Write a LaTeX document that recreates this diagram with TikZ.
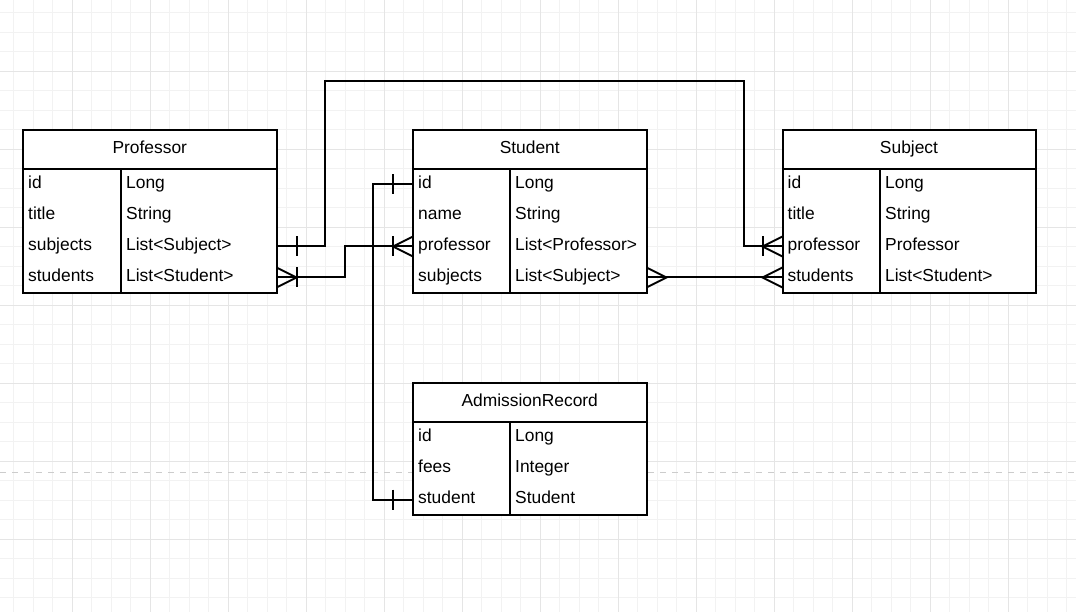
\documentclass[tikz,border=0pt]{standalone}
\usepackage{fontspec}
\setmainfont{Liberation Sans}
\usetikzlibrary{calc}

\tikzset{
  frame/.style={line width=2pt},
  conn/.style={line width=2pt},
  hdr/.style={draw, frame, fill=white, anchor=north west, outer sep=0pt, inner sep=0pt, minimum height=39pt, text height=12.5pt, text depth=4pt},
  body/.style={draw, frame, fill=white, anchor=north west, outer sep=0pt, inner sep=0pt},
  cell/.style={anchor=west, inner sep=0pt, text height=12.5pt, text depth=4pt},
  minorgrid/.style={line width=1pt, color=black!5},
  majorgrid/.style={line width=1pt, color=black!10},
  pagebreak/.style={line width=1pt, color=black!20, dash pattern=on 6pt off 6pt},
  erone/.pic={\draw[conn] (0,-10) -- (0,10);},
  ermany/.pic={\draw[conn] (20,-10) -- (0,0) -- (20,10);},
}

\begin{document}
\begin{tikzpicture}[x=1pt,y=-1pt,font=\fontsize{17.4}{20}\selectfont]
\useasboundingbox[fill=white] (0,0) rectangle (1076,612);

% grid
\foreach \i in {-3,...,51} \draw[minorgrid] ({72.3+19.5*\i},0) -- ++(0,612);
\foreach \i in {-3,...,27} \draw[minorgrid] (0,{71.3+19.5*\i}) -- ++(1076,0);
\foreach \i in {0,...,12} \draw[majorgrid] ({72.3+78*\i},0) -- ++(0,612);
\foreach \i in {0,...,6} \draw[majorgrid] (0,{71.3+78*\i}) -- ++(1076,0);
\draw[pagebreak] (0,472) -- (1076,472);

% Professor
\node[hdr, minimum width=253.5pt] (prof) at (23,130) {Professor};
\node[body, minimum width=253.5pt, minimum height=124pt] (profb) at (prof.south west) {};
\draw[frame] (121,169) -- (121,293);
\foreach \f/\t [count=\r] in {id/Long, title/String, subjects/List<Subject>, students/List<Student>} {
  \node[cell] (prof-\f) at (28,{153.5+31*\r}) {\f};
  \node[cell] (prof-\f-t) at (126,{153.5+31*\r}) {\t};
}

% Student
\node[hdr, minimum width=233.5pt] (stud) at (413,130) {Student};
\node[body, minimum width=233.5pt, minimum height=124pt] (studb) at (stud.south west) {};
\draw[frame] (510,169) -- (510,293);
\foreach \f/\t [count=\r] in {id/Long, name/String, professor/List<Professor>, subjects/List<Subject>} {
  \node[cell] (stud-\f) at (418,{153.5+31*\r}) {\f};
  \node[cell] (stud-\f-t) at (515,{153.5+31*\r}) {\t};
}

% Subject
\node[hdr, minimum width=253pt] (subj) at (782.5,130) {Subject};
\node[body, minimum width=253pt, minimum height=124pt] (subjb) at (subj.south west) {};
\draw[frame] (880,169) -- (880,293);
\foreach \f/\t [count=\r] in {id/Long, title/String, professor/Professor, students/List<Student>} {
  \node[cell] (subj-\f) at (787.5,{153.5+31*\r}) {\f};
  \node[cell] (subj-\f-t) at (885,{153.5+31*\r}) {\t};
}

% AdmissionRecord
\node[hdr, minimum width=233.5pt] (adm) at (413,383) {AdmissionRecord};
\node[body, minimum width=233.5pt, minimum height=93pt] (admb) at (adm.south west) {};
\draw[frame] (510,422) -- (510,515);
\foreach \f/\t [count=\r] in {id/Long, fees/Integer, student/Student} {
  \node[cell] (adm-\f) at (418,{406.5+31*\r}) {\f};
  \node[cell] (adm-\f-t) at (515,{406.5+31*\r}) {\t};
}

% relations
\coordinate (up1) at (325,81.5);
\coordinate (up2) at (743.5,81.5);
\draw[conn] (prof-subjects -| prof.east) -| (up1) -- (up2) |- (subj-professor -| subj.west);
\pic at ($(prof-subjects -| prof.east)+(20,0)$) {erone};
\pic at ($(subj-professor -| subj.west)+(-20,0)$) {erone};
\pic at ($(subj-professor -| subj.west)+(-20,0)$) {ermany};

\coordinate (jog2) at (344.5,262);
\draw[conn] (prof-students -| prof.east) -| (jog2) |- (stud-professor -| stud.west);
\pic at ($(prof-students -| prof.east)+(20,0)$) {erone};
\pic[rotate=180] at ($(prof-students -| prof.east)+(20,0)$) {ermany};
\pic at ($(stud-professor -| stud.west)+(-20,0)$) {erone};
\pic at ($(stud-professor -| stud.west)+(-20,0)$) {ermany};

\coordinate (jog3) at (373,340);
\draw[conn] (stud-id -| stud.west) -| (jog3) |- (adm-student -| adm.west);
\pic at ($(stud-id -| stud.west)+(-20,0)$) {erone};
\pic at ($(adm-student -| adm.west)+(-20,0)$) {erone};

\draw[conn] (stud-subjects -| stud.east) -- (subj-students -| subj.west);
\pic[rotate=180] at ($(stud-subjects -| stud.east)+(20,0)$) {ermany};
\pic at ($(subj-students -| subj.west)+(-20,0)$) {ermany};

\end{tikzpicture}
\end{document}
